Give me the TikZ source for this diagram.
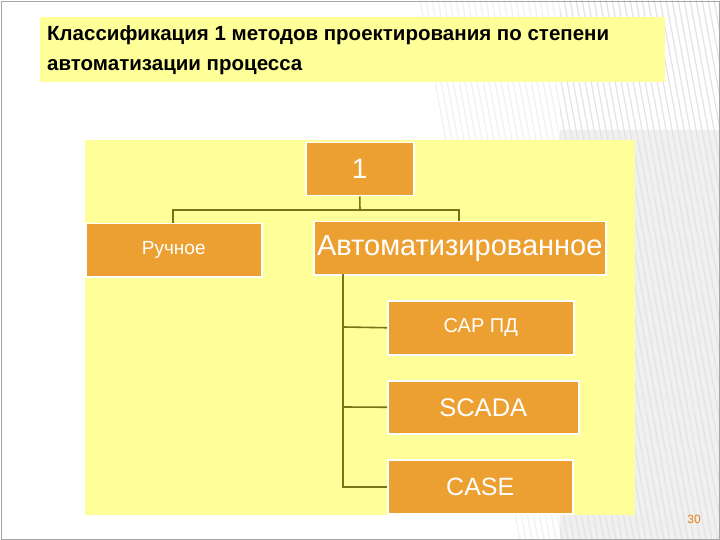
\documentclass[tikz,border=0pt]{standalone}
\usepackage{fontspec}
\setmainfont{Liberation Sans}
\begin{document}
\begin{tikzpicture}[x=1pt,y=-1pt,
  box/.style={draw=white,line width=1.5pt,fill=orng,text=white,inner sep=0pt,anchor=north west},
  conn/.style={draw=olive!80!black,line width=1.6pt}]
\definecolor{orng}{HTML}{EDA032}
\definecolor{pale}{HTML}{FFFF99}
\useasboundingbox (0,0) rectangle (720,540);
\fill[white] (0,0) rectangle (720,540);
\fill[gray!12] (560,130) rectangle (720,540);
\foreach \i in {0,6,...,300}{
  \draw[gray!22,line width=1.2pt] (420+\i,0) -- (520+\i,540);
}
\fill[white,opacity=0.5] (0,0) rectangle (560,540);
\draw[gray!70,line width=0.8pt] (1,1) rectangle (719,539);
\node[fill=pale,minimum width=625pt,minimum height=65pt,inner sep=0pt,anchor=north west] (title) at (40,17) {};
\node[anchor=north west,align=left,font=\bfseries\fontsize{20.5pt}{30pt}\selectfont,inner sep=0pt] (tt) at (47,25)
  {Классификация 1 методов проектирования по степени\\автоматизации процесса};
\node[fill=pale,minimum width=550pt,minimum height=375pt,inner sep=0pt,anchor=north west] (area) at (85,140) {};
\node[box,minimum width=108pt,minimum height=53pt,font=\fontsize{28pt}{32pt}\selectfont] (one) at (305,142) {1};
\node[box,minimum width=176pt,minimum height=53pt,font=\fontsize{19pt}{22pt}\selectfont] (man) at (85,223) {Ручное};
\node[box,minimum width=292pt,minimum height=53pt,font=\fontsize{29pt}{32pt}\selectfont] (auto) at (313,221) {Автоматизированное};
\node[box,minimum width=186pt,minimum height=54pt,font=\fontsize{20pt}{24pt}\selectfont] (sap) at (387,300) {САР ПД};
\node[box,minimum width=191pt,minimum height=53pt,font=\fontsize{25.5pt}{28pt}\selectfont] (scada) at (387,380) {SCADA};
\node[box,minimum width=185pt,minimum height=54pt,font=\fontsize{25pt}{28pt}\selectfont] (case) at (387,459) {CASE};
\coordinate (j) at (360,210);
\draw[conn] (one.south) -- (j);
\draw[conn] (j) -| (man.north -| 173,0);
\draw[conn] (j) -| (auto.north -| 459,0);
\coordinate (v) at (343,274);
\draw[conn] (v) |- (case.west);
\draw[conn] (343,327) -- (sap.west);
\draw[conn] (343,407) -- (scada.west);
\node[text=orange!60!brown,font=\fontsize{12pt}{13pt}\selectfont] (num) at (694,519) {30};
\end{tikzpicture}
\end{document}
